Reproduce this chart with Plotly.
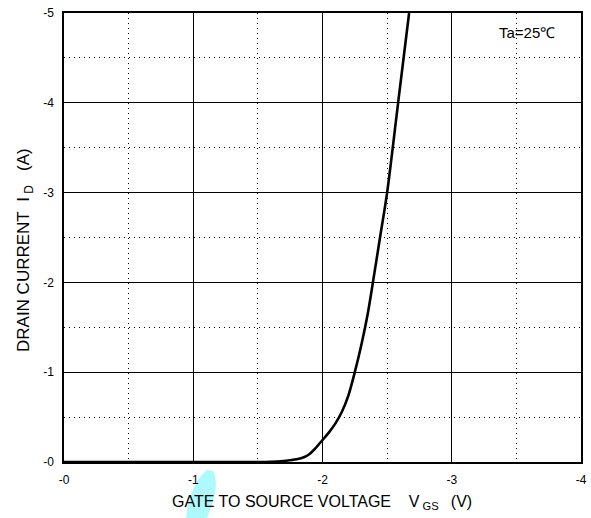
import plotly.graph_objects as go

# Data (VGS in V, ID in A)
vgs = [0, -1.5, -1.6, -1.7, -1.8, -1.86, -1.9, -1.95, -2.0, -2.05, -2.1, -2.15, -2.2, -2.25, -2.3,
       -2.35, -2.39, -2.445, -2.50, -2.585, -2.67]
id_ = [0, 0, -0.003, -0.012, -0.03, -0.055, -0.09, -0.16, -0.245, -0.33, -0.43, -0.56, -0.74, -1.0, -1.3,
       -1.65, -2.0, -2.5, -3.0, -4.0, -5.0]

x_ticks = [0, -1, -2, -3, -4]
x_ticktext = ["-0", "-1", "-2", "-3", "-4"]
y_ticks = [0, -1, -2, -3, -4, -5]
y_ticktext = ["-0", "-1", "-2", "-3", "-4", "-5"]

W, H = 591, 518
L, R, T, B = 64, 10, 13, 56
pw, ph = W - L - R, H - T - B

def px(x, y):
    return (x - L) / pw, (H - B - y) / ph

fig = go.Figure()
fig.add_trace(go.Scatter(x=vgs, y=id_, mode="lines",
                         line=dict(color="black", width=2.6, shape="spline", smoothing=0.8),
                         showlegend=False, hoverinfo="skip"))

font = "Liberation Sans, Arial, sans-serif"
axis_common = dict(showline=True, mirror=True, linecolor="black", linewidth=1.5,
                   showgrid=True, gridcolor="black", gridwidth=1, zeroline=False,
                   automargin=False, ticks="",
                   tickfont=dict(family=font, size=12, color="black"))

fig.update_xaxes(range=[0, -4], tickvals=x_ticks, ticktext=x_ticktext,
                 minor=dict(dtick=0.5, showgrid=True, gridcolor="black", gridwidth=1, griddash="1px,4px"),
                 ticklabelstandoff=6, **axis_common)
fig.update_yaxes(range=[0, -5], tickvals=y_ticks, ticktext=y_ticktext,
                 minor=dict(dtick=0.5, showgrid=True, gridcolor="black", gridwidth=1, griddash="1px,4px"),
                 ticklabelstandoff=6, **axis_common)

# cyan artifact (decoration)
pts = [(186, 518), (189, 495), (196, 479), (207, 470), (213, 471), (219, 483), (215, 498), (207, 518)]
p = [px(*q) for q in pts]
path = (f"M {p[0][0]},{p[0][1]} C {p[1][0]},{p[1][1]} {p[2][0]},{p[2][1]} {p[3][0]},{p[3][1]} "
        f"L {p[4][0]},{p[4][1]} C {p[5][0]},{p[5][1]} {p[6][0]},{p[6][1]} {p[7][0]},{p[7][1]} Z")
fig.add_shape(type="path", path=path, xref="paper", yref="paper",
              fillcolor="#aef9fb", line=dict(width=0), layer="below")

nb = "\u00a0"
xt = f"GATE TO SOURCE VOLTAGE{nb*4}V<sub>{nb}GS</sub>{nb*2}\u2009(V)"
yt = f"DRAIN CURRENT{nb*2}I<sub>{nb}D</sub>{nb*3}(A)"
ax, ay = px(321.5, 502)
fig.add_annotation(text=xt, x=ax, y=ay, xref="paper", yref="paper", showarrow=False,
                   font=dict(family=font, size=16, color="black"), xanchor="center", yanchor="middle")
bx, by = px(25, 250)
fig.add_annotation(text=yt, x=bx, y=by, xref="paper", yref="paper", showarrow=False, textangle=-90,
                   font=dict(family=font, size=17, color="black"), xanchor="center", yanchor="middle")
cx, cy = px(527, 33)
fig.add_annotation(text="Ta=25℃", x=cx, y=cy, xref="paper", yref="paper", showarrow=False,
                   font=dict(family=font, size=15, color="black"), xanchor="center", yanchor="middle")

fig.update_layout(width=W, height=H, margin=dict(l=L, r=R, t=T, b=B),
                  paper_bgcolor="white", plot_bgcolor="white")
fig.write_html("out.html")
